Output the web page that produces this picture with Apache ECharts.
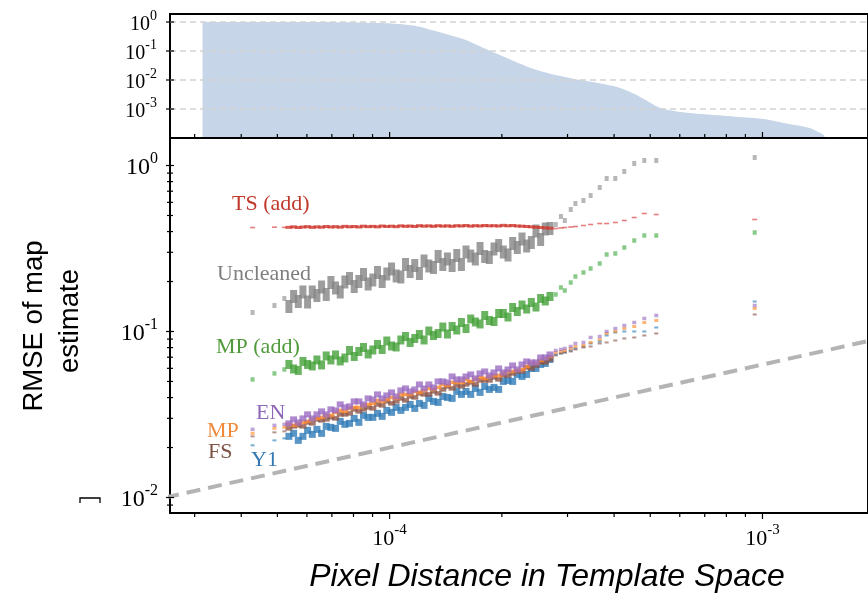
<!DOCTYPE html>
<html>
<head>
<meta charset="utf-8">
<script src="https://cdn.jsdelivr.net/npm/echarts@6.0.0/dist/echarts.min.js"></script>
<style>
  html, body { margin: 0; padding: 0; background: #ffffff; }
  #chart { width: 868px; height: 593px; }
</style>
</head>
<body>
<div id="chart"></div>
<script>
// ---------------------------------------------------------------------------
// Data
// ---------------------------------------------------------------------------

// Pixel distance (template space) of every sample, shared by all methods.
const distance = [
  4.29e-5, 4.91e-5, 5.22e-5,
  5.370e-5, 5.527e-5, 5.689e-5, 5.855e-5, 6.026e-5, 6.202e-5, 6.383e-5, 6.569e-5, 6.761e-5, 6.959e-5,
  7.161e-5, 7.371e-5, 7.586e-5, 7.807e-5, 8.035e-5, 8.270e-5, 8.511e-5, 8.760e-5, 9.016e-5, 9.279e-5,
  9.550e-5, 9.829e-5,
  1.012e-4, 1.041e-4, 1.072e-4, 1.103e-4, 1.135e-4, 1.168e-4, 1.202e-4, 1.237e-4, 1.274e-4, 1.311e-4,
  1.349e-4, 1.389e-4, 1.429e-4, 1.471e-4, 1.514e-4, 1.558e-4, 1.603e-4, 1.650e-4, 1.698e-4, 1.748e-4,
  1.799e-4, 1.851e-4, 1.905e-4, 1.961e-4, 2.018e-4, 2.077e-4, 2.138e-4, 2.200e-4, 2.265e-4, 2.331e-4,
  2.399e-4, 2.469e-4, 2.541e-4, 2.615e-4, 2.692e-4,
  2.79e-4, 2.88e-4, 2.95e-4, 3.06e-4, 3.15e-4, 3.31e-4, 3.46e-4, 3.66e-4, 3.82e-4, 4.03e-4,
  4.26e-4, 4.53e-4, 4.82e-4, 5.19e-4, 9.53e-4
];

// RMSE of the map estimate, one value per distance.
const rmseUncleaned = [
  0.1302, 0.1434, 0.1581,
  0.1414, 0.1625, 0.1516, 0.1730, 0.1506, 0.1730, 0.1648, 0.1854, 0.1671, 0.1973,
  0.1829, 0.1730, 0.1987, 0.2086, 0.1867, 0.2001, 0.2205, 0.1933, 0.2043, 0.2267,
  0.2001, 0.2221, 0.2380, 0.2160, 0.2130, 0.2533, 0.2299, 0.2498, 0.2236, 0.2659,
  0.2481, 0.2430, 0.2830, 0.2533, 0.2734, 0.2498, 0.2870, 0.2533, 0.3012, 0.2850,
  0.2734, 0.3162, 0.2830, 0.2791, 0.3140, 0.3296, 0.3012, 0.2890, 0.3389, 0.3206,
  0.3607, 0.3273, 0.3436, 0.4030, 0.3582, 0.4144, 0.4173,
  0.441, 0.4929, 0.4663, 0.5432, 0.5902, 0.6153, 0.6597, 0.7371, 0.835, 0.835,
  0.9202, 1.028, 1.072, 1.072, 1.117
];

const rmseTSAdd = [
  0.423, 0.425, 0.424,
  0.424, 0.427, 0.423, 0.426, 0.428, 0.424, 0.427, 0.425, 0.429, 0.426,
  0.428, 0.425, 0.430, 0.427, 0.429, 0.426, 0.431, 0.428, 0.430, 0.427,
  0.432, 0.429, 0.431, 0.428, 0.433, 0.430, 0.432, 0.429, 0.434, 0.431,
  0.433, 0.430, 0.434, 0.431, 0.433, 0.430, 0.434, 0.432, 0.435, 0.431,
  0.434, 0.432, 0.435, 0.433, 0.434, 0.432, 0.436, 0.433, 0.435, 0.432,
  0.431, 0.429, 0.427, 0.425, 0.423, 0.421, 0.419,
  0.4173, 0.4202, 0.4231, 0.426, 0.429, 0.435, 0.4411, 0.4472, 0.4472, 0.4535,
  0.4663, 0.4861, 0.5138, 0.5067, 0.4728
];

const rmseMPAdd = [
  0.05143, 0.05589, 0.05907,
  0.06331, 0.05948, 0.05826, 0.06600, 0.06331, 0.06201, 0.06738, 0.06287, 0.07123, 0.06738,
  0.07221, 0.06646, 0.06928, 0.07686, 0.07073, 0.07580, 0.08012, 0.07322, 0.07739, 0.08352,
  0.07793, 0.08767, 0.08181, 0.08067, 0.08890, 0.09331, 0.08587, 0.09076, 0.09593, 0.08890,
  0.1007, 0.09461, 0.09727, 0.1064, 0.09660, 0.1072, 0.1021, 0.1133, 0.1042, 0.1189,
  0.1141, 0.1110, 0.1249, 0.1165, 0.1149, 0.1284, 0.1284, 0.1223, 0.1395, 0.1320,
  0.1444, 0.1366, 0.1495, 0.1404, 0.1581, 0.1527, 0.1625,
  0.1671, 0.1841, 0.1766, 0.1973, 0.2145, 0.2267, 0.2396, 0.2568, 0.2910, 0.2950,
  0.3206, 0.3533, 0.3786, 0.3786, 0.3947
];

const rmseEN = [
  0.02573, 0.02720, 0.02758,
  0.02796, 0.02955, 0.02835, 0.02996, 0.03168, 0.02996, 0.03168, 0.03302, 0.03168, 0.03395,
  0.03348, 0.03638, 0.03490, 0.03539, 0.03792, 0.03792, 0.03638, 0.03953, 0.03899, 0.04179,
  0.03953, 0.04121, 0.04296, 0.04064, 0.04417, 0.04541, 0.04356, 0.04478, 0.04799, 0.04541,
  0.04799, 0.04604, 0.05003, 0.05003, 0.04934, 0.05361, 0.05143, 0.05143, 0.05361, 0.05512,
  0.05215, 0.05589, 0.05746, 0.05436, 0.05667, 0.05990, 0.05667, 0.05907, 0.06244, 0.05907,
  0.06331, 0.06600, 0.06509, 0.06509, 0.06976, 0.06976, 0.07272,
  0.07686, 0.07793, 0.07902, 0.08124, 0.08469, 0.08587, 0.09203, 0.09331, 0.1000, 0.1042,
  0.1087, 0.1133, 0.1198, 0.1249, 0.1434
];

const rmseMP = [
  0.02434, 0.02609, 0.02645,
  0.02758, 0.02720, 0.02796, 0.02835, 0.02875, 0.02955, 0.02996, 0.03038, 0.03124, 0.03124,
  0.03257, 0.03348, 0.03302, 0.03442, 0.03490, 0.03490, 0.03588, 0.03638, 0.03689, 0.03845,
  0.03792, 0.03899, 0.04008, 0.03953, 0.04179, 0.04179, 0.04179, 0.04356, 0.04296, 0.04417,
  0.04541, 0.04478, 0.04604, 0.04799, 0.04733, 0.04934, 0.04934, 0.04934, 0.05143, 0.05003,
  0.05143, 0.05288, 0.05215, 0.05361, 0.05436, 0.05436, 0.05589, 0.05746, 0.05746, 0.05826,
  0.05907, 0.06158, 0.06419, 0.06419, 0.06692, 0.06880, 0.07073,
  0.07476, 0.07580, 0.07686, 0.07902, 0.08124, 0.08237, 0.08587, 0.08951, 0.09727, 0.1000,
  0.1042, 0.1072, 0.1133, 0.1165, 0.1376
];

const rmseFS = [
  0.02335, 0.02468, 0.02503,
  0.02609, 0.02682, 0.02720, 0.02682, 0.02835, 0.02796, 0.02955, 0.02915, 0.02955, 0.03038,
  0.02996, 0.03168, 0.03168, 0.03212, 0.03395, 0.03302, 0.03395, 0.03490, 0.03442, 0.03638,
  0.03588, 0.03792, 0.03689, 0.03792, 0.03953, 0.03845, 0.04064, 0.04008, 0.04237, 0.04179,
  0.04179, 0.04356, 0.04237, 0.04478, 0.04668, 0.04541, 0.04733, 0.04668, 0.04799, 0.04934,
  0.04799, 0.05073, 0.05073, 0.05073, 0.05288, 0.05143, 0.05436, 0.05436, 0.05589, 0.05746,
  0.05746, 0.06073, 0.05990, 0.06244, 0.06509, 0.06509, 0.06785,
  0.07172, 0.07373, 0.07476, 0.07580, 0.07793, 0.08012, 0.08124, 0.08469, 0.08587, 0.08829,
  0.09076, 0.09203, 0.09461, 0.09727, 0.1266
];

const rmseY1 = [
  0.02062, 0.02209, 0.02271,
  0.02335, 0.02434, 0.02209, 0.02335, 0.02538, 0.02401, 0.02573, 0.02434, 0.02682, 0.02645,
  0.02609, 0.02875, 0.02758, 0.02796, 0.02996, 0.02835, 0.03124, 0.03038, 0.03038, 0.03212,
  0.03081, 0.03348, 0.03257, 0.03490, 0.03348, 0.03490, 0.03638, 0.03442, 0.03689, 0.03588,
  0.03953, 0.03792, 0.03740, 0.04064, 0.04008, 0.03953, 0.04356, 0.04179, 0.04356, 0.04179,
  0.04541, 0.04296, 0.04668, 0.04478, 0.04604, 0.04478, 0.05003, 0.05073, 0.05003, 0.05512,
  0.05361, 0.05512, 0.05990, 0.05990, 0.06331, 0.06419, 0.06785,
  0.07272, 0.07373, 0.07476, 0.07686, 0.07902, 0.08124, 0.08469, 0.08707, 0.09461, 0.09863,
  0.1000, 0.1000, 0.1000, 0.1057, 0.1516
];

// Fraction of pixels beyond a given distance (upper panel).
const coverageDist = [
  3.15e-5, 5.73e-5, 7.78e-5, 9.95e-5, 1.175e-4, 1.35e-4, 1.60e-4, 1.84e-4, 2.12e-4, 2.39e-4,
  2.71e-4, 3.13e-4, 3.61e-4, 4.08e-4, 4.61e-4, 5.32e-4, 6.01e-4, 7.41e-4, 1.007e-3, 1.14e-3,
  1.34e-3, 1.46e-3, 1.47e-3
];
const coverageFrac = [
  1.0, 1.0, 0.98, 0.90, 0.73, 0.46, 0.24, 0.108, 0.049, 0.026,
  0.0161, 0.0108, 0.0079, 0.0057, 0.0030, 0.00108, 0.00079, 0.00062, 0.00045, 0.00033,
  0.00022, 0.000127, 0.0001
];

// Square-root reference trend (end points).
const refDist = [2.5e-5, 2.0e-3];
const refRmse = [0.0100, 0.0894];

// Distance cut-off marked by the dotted vertical line.
const cutoffDist = 4.13e-4;

// In-plot method names.
const methodLabels = ['TS (add)', 'Uncleaned', 'MP (add)', 'EN', 'MP', 'FS', 'Y1'];

// ---------------------------------------------------------------------------
// Axes ranges
// ---------------------------------------------------------------------------
const xMin = Math.pow(10, -4.589);
const xMax = Math.pow(10, -2.717);
const topYMin = 1e-4;
const topYMax = Math.pow(10, 0.276);
const botYMin = Math.pow(10, -2.0934);
const botYMax = Math.pow(10, 0.1657);

const SERIF = "'Liberation Serif', 'DejaVu Serif', serif";
const SANS = "'Liberation Sans', Arial, sans-serif";

function powLabel(v) {
  const e = Math.log10(v);
  const r = Math.round(e);
  if (Math.abs(e - r) > 1e-3) return '';
  return '{b|10}{s|' + r + '}';
}
function richFor(base, sup) {
  return {
    b: { fontFamily: SERIF, fontSize: base, color: '#000', lineHeight: base + 5, verticalAlign: 'bottom' },
    s: { fontFamily: SERIF, fontSize: sup, color: '#000', lineHeight: sup, verticalAlign: 'top' }
  };
}

// Tick positions: decades and the 2..9 subdivisions between them.
function decadeTicks(lo, hi) {
  const major = [], minor = [];
  for (let e = Math.floor(Math.log10(lo)); e <= Math.ceil(Math.log10(hi)); e++) {
    const p = Math.pow(10, e);
    if (p >= lo && p <= hi) major.push(p);
    for (let k = 2; k <= 9; k++) {
      const m = k * p;
      if (m >= lo && m <= hi) minor.push(m);
    }
  }
  return { major, minor };
}
const xTicks = decadeTicks(xMin, xMax);
const topYTicks = decadeTicks(topYMin * 1.0001, topYMax);
const botYTicks = decadeTicks(botYMin, botYMax);

// kind: 0 x-minor, 1 x-major, 2 y-minor, 3 y-major
function tickData(yTicks, yLow, withYMinor) {
  const d = [];
  xTicks.minor.forEach(v => d.push([v, yLow, 0]));
  xTicks.major.forEach(v => d.push([v, yLow, 1]));
  if (withYMinor) yTicks.minor.forEach(v => d.push([xMin, v, 2]));
  yTicks.major.forEach(v => d.push([xMin, v, 3]));
  return d;
}

function tickSeries(gridIdx, yTicks, yLow, xDir, withYMinor) {
  // xDir: +1 ticks point down (outside), -1 point up (inside)
  return {
    type: 'custom',
    xAxisIndex: gridIdx,
    yAxisIndex: gridIdx,
    silent: true,
    clip: false,
    z: 10,
    data: tickData(yTicks, yLow, withYMinor),
    renderItem: function (params, api) {
      const cs = params.coordSys;
      const kind = api.value(2);
      const pt = api.coord([api.value(0), api.value(1)]);
      let shape;
      if (kind <= 1) {
        const len = kind === 1 ? 6 : 4;
        const yb = cs.y + cs.height;
        shape = { x1: pt[0], y1: yb, x2: pt[0], y2: yb + xDir * len };
      } else {
        const len = kind === 3 ? 4 : 3;
        shape = { x1: cs.x - len, y1: pt[1], x2: cs.x + len, y2: pt[1] };
      }
      return { type: 'line', shape: shape, style: { stroke: '#000', lineWidth: 1.2 } };
    }
  };
}

// Dashed horizontal guides at each decade of the upper panel.
const topGuides = {
  type: 'custom',
  xAxisIndex: 0,
  yAxisIndex: 0,
  silent: true,
  clip: false,
  z: 3,
  data: topYTicks.major.filter(v => v > topYMin * 1.5).map(v => [xMin, v]),
  renderItem: function (params, api) {
    const cs = params.coordSys;
    const y = api.coord([api.value(0), api.value(1)])[1];
    return {
      type: 'line',
      shape: { x1: cs.x, y1: y, x2: cs.x + cs.width, y2: y },
      style: { stroke: '#d2d2d2', lineWidth: 1.5, lineDash: [6, 4] }
    };
  }
};

// ---------------------------------------------------------------------------
// Marker series
// ---------------------------------------------------------------------------
// dense: marker size where samples crowd together; sparse: isolated samples.
const methods = [
  { name: 'Uncleaned', values: rmseUncleaned, color: '#858585', light: 'rgba(127,127,127,0.7)', dense: [7, 13], sparse: [4, 5] },
  { name: 'TS (add)', values: rmseTSAdd, color: '#d03a30', light: 'rgba(214,39,40,0.75)', dense: [7, 3], sparse: [5, 1.6] },
  { name: 'MP (add)', values: rmseMPAdd, color: '#45a03a', light: 'rgba(44,160,44,0.7)', dense: [7, 9], sparse: [4, 4.5] },
  { name: 'Y1', values: rmseY1, color: '#2f7bb6', light: 'rgba(31,119,180,0.75)', dense: [7, 7], sparse: [4, 2] },
  { name: 'FS', values: rmseFS, color: '#8c564b', light: 'rgba(140,86,75,0.8)', dense: [7, 4.5], sparse: [4, 2] },
  { name: 'MP', values: rmseMP, color: '#fb8a2e', light: 'rgba(255,127,14,0.7)', dense: [7, 3.5], sparse: [4, 3] },
  { name: 'EN', values: rmseEN, color: '#9a6cc0', light: 'rgba(148,103,189,0.75)', dense: [7, 6], sparse: [4, 3.5] }
];
const isDense = d => d >= 5.3e-5 && d <= 2.7e-4;

const scatterSeries = methods.map(m => ({
  name: m.name,
  type: 'scatter',
  xAxisIndex: 1,
  yAxisIndex: 1,
  symbol: 'rect',
  symbolSize: val => (isDense(val[0]) ? m.dense : m.sparse),
  itemStyle: { color: p => (isDense(p.value[0]) ? m.color : m.light) },
  silent: true,
  z: 3,
  data: distance.map((d, i) => [d, m.values[i]])
}));

const dottedLine = {
  silent: true,
  symbol: ['none', 'none'],
  label: { show: false },
  lineStyle: { color: '#6e6e6e', width: 3.5, type: [3.5, 6.2], cap: 'butt' },
  data: [{ xAxis: cutoffDist }]
};

const option = {
  animation: false,
  backgroundColor: '#ffffff',
  grid: [
    { left: 170, top: 14, right: -4, height: 124, show: true, borderColor: '#000', borderWidth: 2, backgroundColor: 'transparent' },
    { left: 170, top: 138, right: -4, height: 375, show: true, borderColor: '#000', borderWidth: 2, backgroundColor: 'transparent' }
  ],
  xAxis: [
    {
      type: 'log', gridIndex: 0, min: xMin, max: xMax, z: 6,
      axisLine: { show: true, lineStyle: { color: '#000', width: 2 } }, axisTick: { show: false },
      axisLabel: { show: false }, splitLine: { show: false }
    },
    {
      type: 'log', gridIndex: 1, min: xMin, max: xMax,
      axisLine: { show: false }, axisTick: { show: false }, splitLine: { show: false },
      axisLabel: { formatter: powLabel, rich: richFor(22, 15), margin: 10, showMinLabel: false, showMaxLabel: false }
    }
  ],
  yAxis: [
    {
      type: 'log', gridIndex: 0, min: topYMin, max: topYMax,
      axisLine: { show: false }, axisTick: { show: false }, splitLine: { show: false },
      axisLabel: { formatter: powLabel, rich: richFor(20, 14), margin: 13, showMinLabel: false, showMaxLabel: false }
    },
    {
      type: 'log', gridIndex: 1, min: botYMin, max: botYMax,
      axisLine: { show: false }, axisTick: { show: false }, splitLine: { show: false },
      axisLabel: { formatter: powLabel, rich: richFor(24, 16), margin: 12, showMinLabel: false, showMaxLabel: false }
    }
  ],
  series: [
    {
      name: 'coverage',
      type: 'line',
      xAxisIndex: 0,
      yAxisIndex: 0,
      symbol: 'none',
      smooth: 0.2,
      silent: true,
      lineStyle: { width: 0 },
      areaStyle: { color: '#c6d5e7', opacity: 1, origin: 'start' },
      z: 2,
      data: coverageDist.map((d, i) => [d, coverageFrac[i]]),
      markLine: Object.assign({}, dottedLine, { z: 5 })
    },
    topGuides,
    {
      name: 'sqrt trend',
      type: 'line',
      xAxisIndex: 1,
      yAxisIndex: 1,
      symbol: 'none',
      silent: true,
      clip: true,
      lineStyle: { color: '#b4b4b4', width: 4, type: [14, 8] },
      z: 2,
      data: refDist.map((d, i) => [d, refRmse[i]]),
      markLine: Object.assign({}, dottedLine, { z: 5 })
    },
    ...scatterSeries,
    tickSeries(0, topYTicks, topYMin, -1, false),
    tickSeries(1, botYTicks, botYMin, 1, true)
  ],
  graphic: [
    // axis titles
    {
      type: 'text', x: 34, y: 326, rotation: Math.PI / 2,
      style: { text: 'RMSE of map', font: "27.5px " + SANS, fill: '#000', align: 'center', verticalAlign: 'middle' }
    },
    {
      type: 'text', x: 70, y: 321, rotation: Math.PI / 2,
      style: { text: 'estimate', font: "27.5px " + SANS, fill: '#000', align: 'center', verticalAlign: 'middle' }
    },
    {
      type: 'text', x: 547, y: 577,
      style: { text: 'Pixel Distance in Template Space', font: "italic 32px " + SANS, fill: '#000', align: 'center', verticalAlign: 'middle' }
    },
    // method names
    { type: 'text', x: 232, y: 204, style: { text: methodLabels[0], font: "22px " + SERIF, fill: '#c0392b', verticalAlign: 'middle' } },
    { type: 'text', x: 217, y: 274, style: { text: methodLabels[1], font: "22px " + SERIF, fill: '#7f7f7f', verticalAlign: 'middle' } },
    { type: 'text', x: 216, y: 347, style: { text: methodLabels[2], font: "22px " + SERIF, fill: '#4f9a3a', verticalAlign: 'middle' } },
    { type: 'text', x: 256, y: 413, style: { text: methodLabels[3], font: "22px " + SERIF, fill: '#8e68b8', verticalAlign: 'middle' } },
    { type: 'text', x: 207, y: 431, style: { text: methodLabels[4], font: "22px " + SERIF, fill: '#ef8a3c', verticalAlign: 'middle' } },
    { type: 'text', x: 208, y: 452, style: { text: methodLabels[5], font: "22px " + SERIF, fill: '#7d5446', verticalAlign: 'middle' } },
    { type: 'text', x: 251, y: 460, style: { text: methodLabels[6], font: "22px " + SERIF, fill: '#3377b3', verticalAlign: 'middle' } },
    // small bracket glyph left of the lowest tick label
    {
      type: 'polyline',
      shape: { points: [[80, 503], [80, 498], [100, 498], [100, 503]] },
      style: { stroke: '#000', lineWidth: 1.3, fill: null }
    }
  ]
};

const chart = echarts.init(document.getElementById('chart'), null, { renderer: 'canvas' });
chart.setOption(option);
</script>
</body>
</html>
